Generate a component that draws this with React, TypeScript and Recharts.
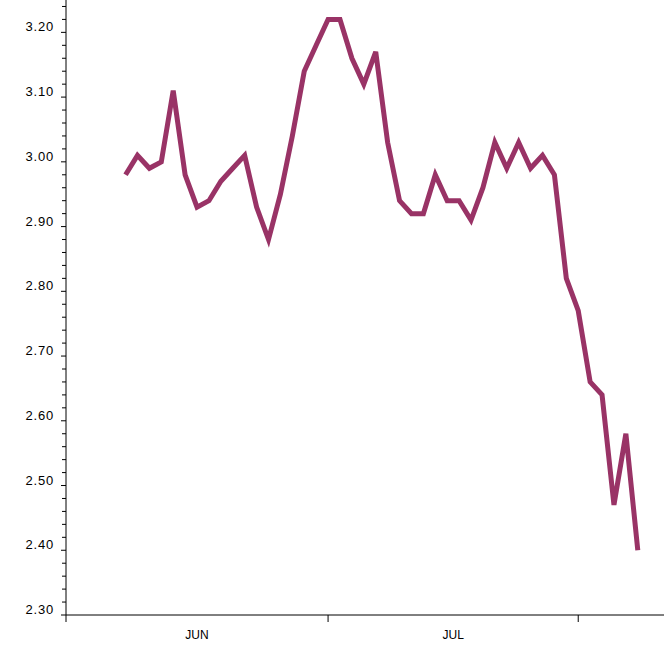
import React from 'react';
import { LineChart, Line, XAxis, YAxis } from 'recharts';

// trading-day index (0 = first plotted day), June/July
const days: number[] = [
    0, 1, 2, 3, 4, 5, 6, 7, 8, 9, 10, 11, 12, 13, 14, 15, 16, 17, 18, 19, 20, 21,
    22, 23, 24, 25, 26, 27, 28, 29, 30, 31, 32, 33, 34, 35, 36, 37, 38, 39, 40, 41, 42, 43,
];
const values: number[] = [
    2.98, 3.01, 2.99, 3.0, 3.11, 2.98, 2.93, 2.94, 2.97, 2.99, 3.01, 2.93, 2.88, 2.95,
    3.04, 3.14, 3.18, 3.22, 3.22, 3.16, 3.12, 3.17, 3.03, 2.94, 2.92, 2.92, 2.98, 2.94,
    2.94, 2.91, 2.96, 3.03, 2.99, 3.03, 2.99, 3.01, 2.98, 2.82, 2.77, 2.66, 2.64, 2.47,
    2.58, 2.4,
];

// month boundaries (trading-day index) and label positions
const monthStarts: number[] = [-5, 17, 38];
const monthLabels: string[] = ['JUN', 'JUL'];
const majorTicks: number[] = [2.3, 2.4, 2.5, 2.6, 2.7, 2.8, 2.9, 3.0, 3.1, 3.2];

const chartData = days.map((d, i) => ({ day: d, value: values[i] }));

const monthMids = monthLabels.map((_, i) => (monthStarts[i] + monthStarts[i + 1]) / 2);
const xTicks = [...monthStarts, ...monthMids].sort((a, b) => a - b);

// minor ticks every 0.02 between the majors
const yTicks: number[] = [];
majorTicks.forEach((t) => {
    for (let k = 0; k < 5; k++) yTicks.push(Math.round((t + k * 0.02) * 100) / 100);
});

const FONT = '"Liberation Sans", Arial, sans-serif';
const COLOR = '#993366';

const YTick = (props: any) => {
    const { x, y, payload } = props;
    const major = Math.round(payload.value * 100) % 10 === 0;
    return (
        <g>
            <line x1={x - (major ? 5 : 4)} x2={x} y1={y} y2={y} stroke="#000" strokeWidth={1} />
            {major && (
                <text x={x - 12} y={y - 1} textAnchor="end" fontSize={13} letterSpacing={0.8}
                      fontFamily={FONT} fill="#000">
                    {payload.value.toFixed(2)}
                </text>
            )}
        </g>
    );
};

const XTick = (props: any) => {
    const { x, y, payload } = props;
    const idx = monthMids.indexOf(payload.value);
    if (idx >= 0) {
        return (
            <text x={x} y={y + 24} textAnchor="middle" fontSize={12} fontFamily={FONT} fill="#000">
                {monthLabels[idx]}
            </text>
        );
    }
    return <line x1={x} x2={x} y1={y} y2={y + 7} stroke="#000" strokeWidth={1} />;
};

const App: React.FC = () => {
    return (
        <div style={{ position: 'absolute', left: 0, top: 0, background: '#fff' }}>
            <LineChart width={664} height={649} data={chartData}
                       margin={{ top: 0, right: 0, bottom: 0, left: 0 }}>
                <XAxis
                    dataKey="day"
                    type="number"
                    domain={[-5, 45.2]}
                    ticks={xTicks}
                    tick={<XTick />}
                    tickLine={false}
                    tickSize={0}
                    tickMargin={0}
                    interval={0}
                    height={34}
                    stroke="#000"
                    allowDataOverflow
                />
                <YAxis
                    type="number"
                    domain={[2.3, 3.25]}
                    ticks={yTicks}
                    tick={<YTick />}
                    tickLine={false}
                    tickSize={0}
                    tickMargin={0}
                    interval={0}
                    width={66}
                    stroke="#000"
                    allowDataOverflow
                />
                <Line
                    type="linear"
                    dataKey="value"
                    stroke={COLOR}
                    strokeWidth={5}
                    dot={false}
                    activeDot={false}
                    isAnimationActive={false}
                />
            </LineChart>
        </div>
    );
};

export default App;
